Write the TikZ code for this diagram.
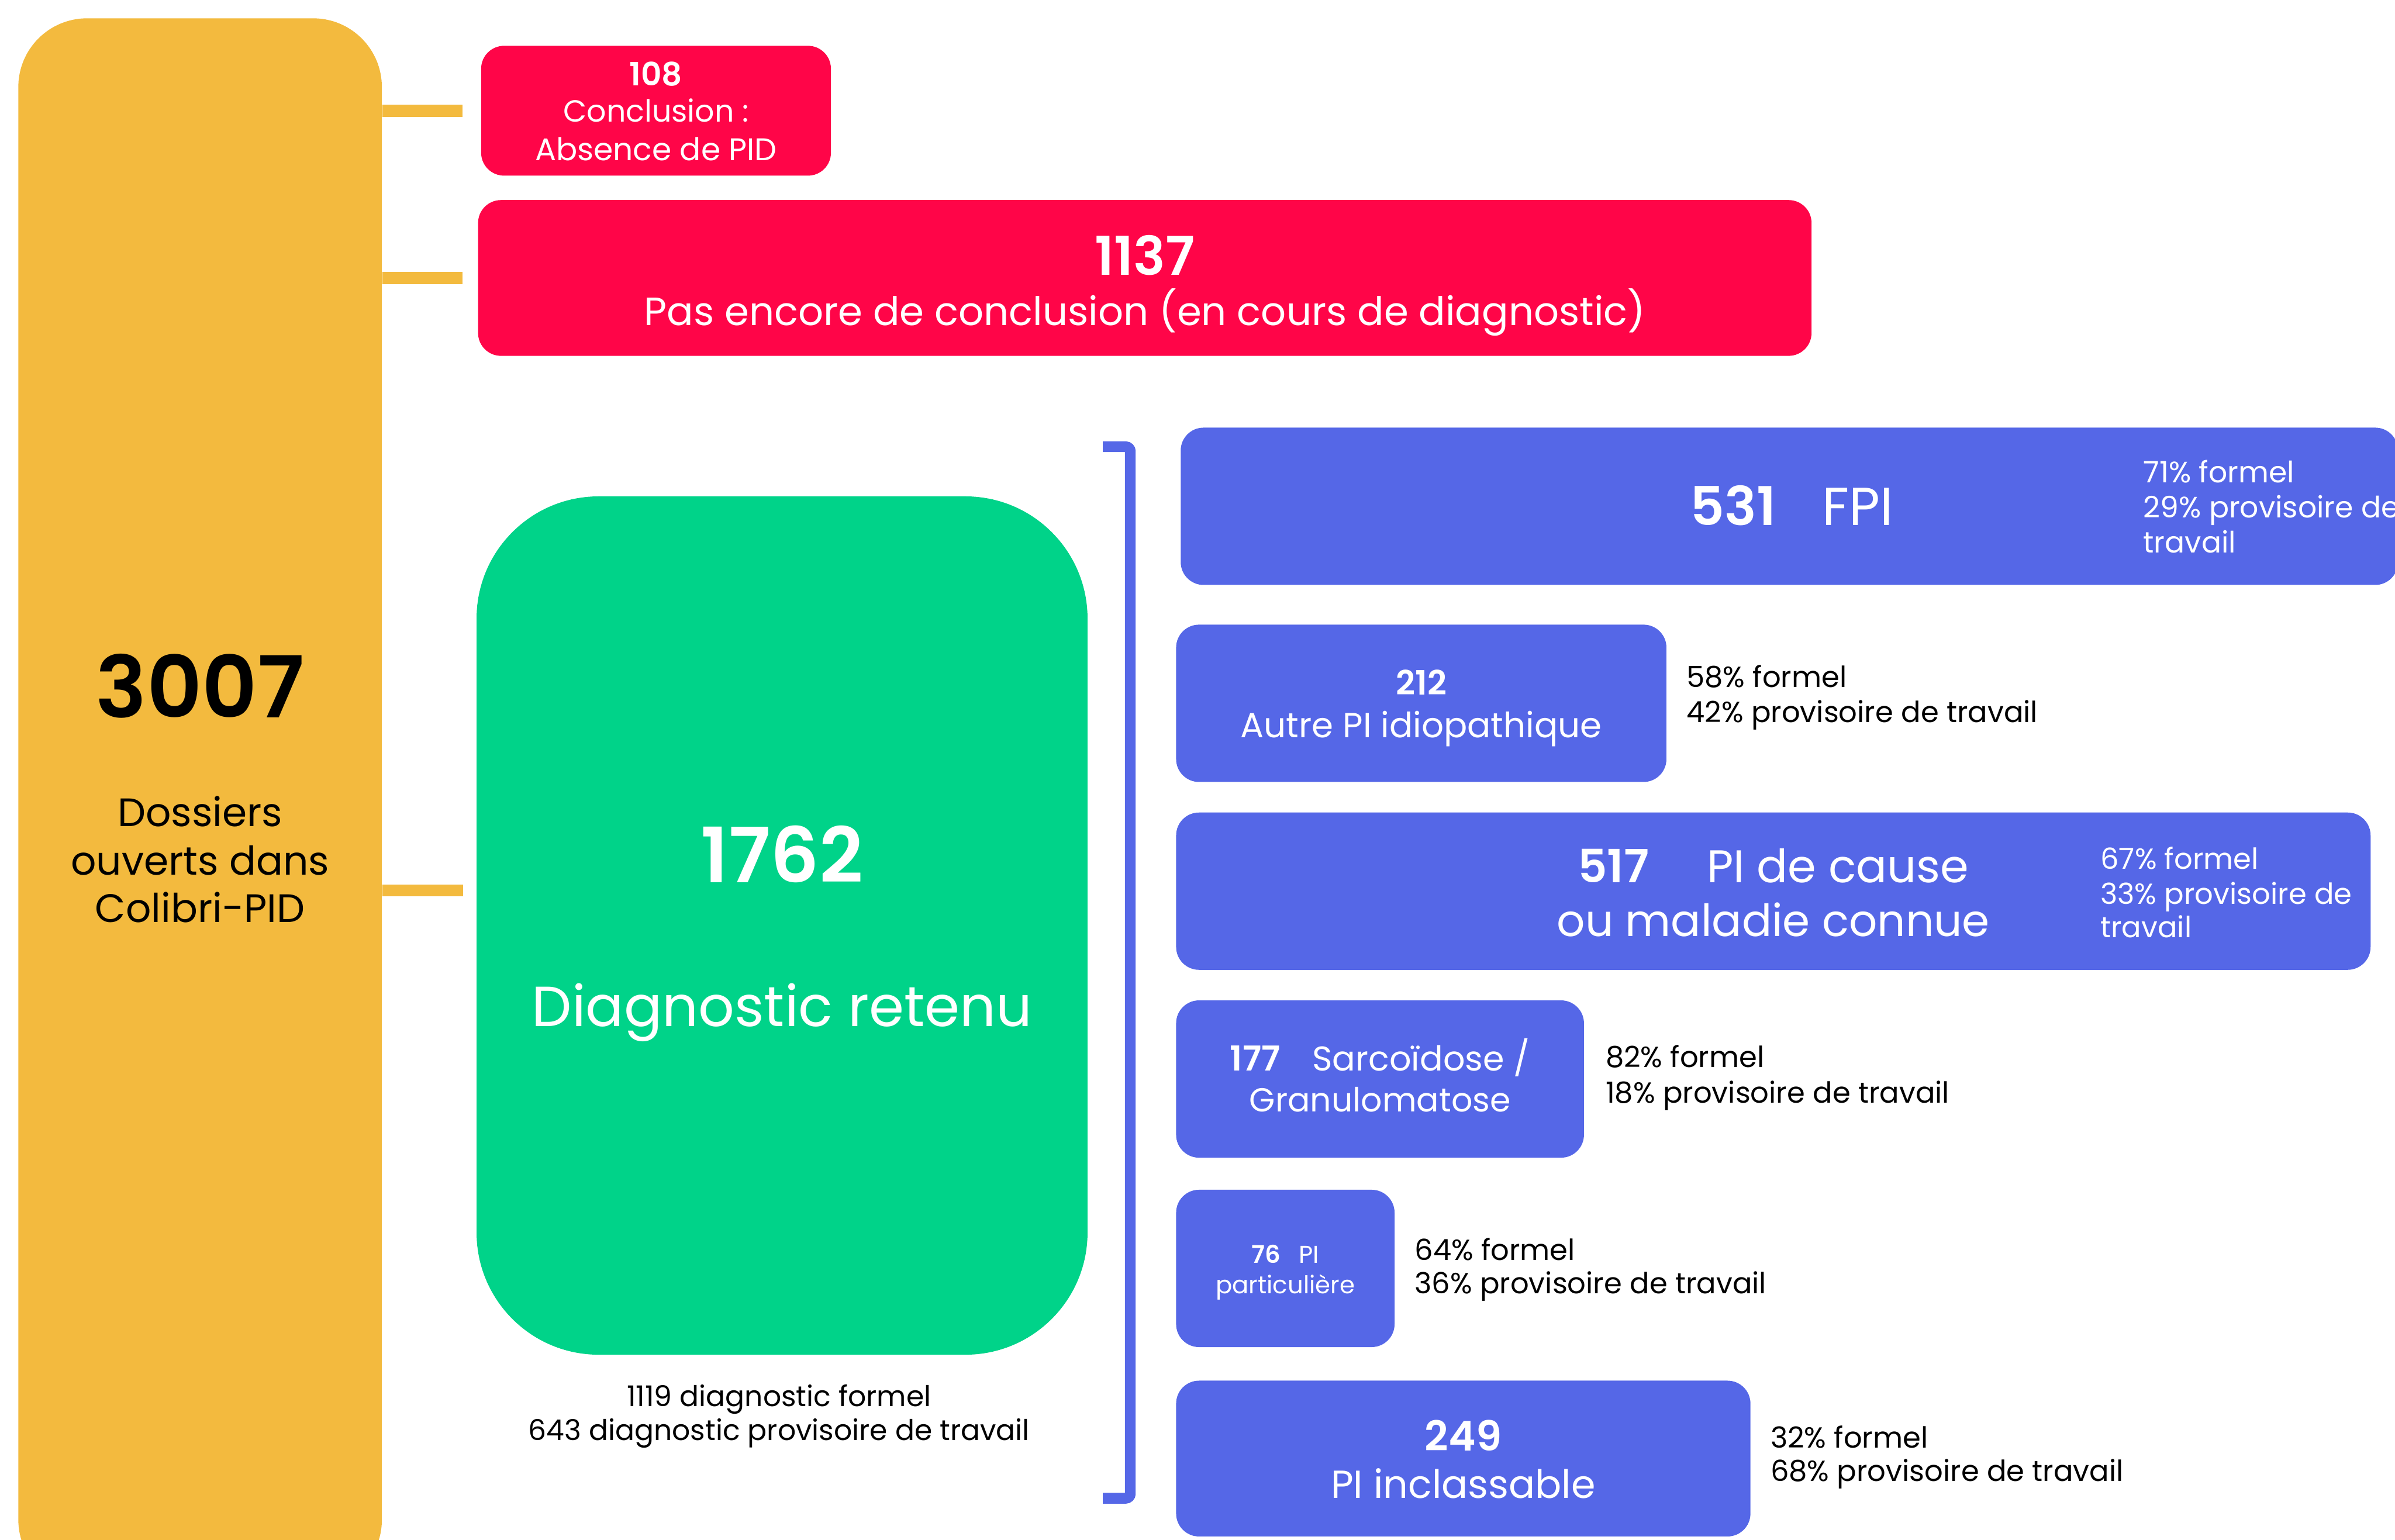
\documentclass[tikz,border=0pt]{standalone}
\usepackage{fontspec}
\setmainfont{Poppins}[BoldFont={Poppins SemiBold}]
\definecolor{cyel}{HTML}{F3BA3E}
\definecolor{cred}{HTML}{FF0548}
\definecolor{cgreen}{HTML}{00D389}
\definecolor{cblue}{HTML}{5567E7}
\newcommand\fsz[1]{\fontsize{#1pt}{#1pt}\selectfont}
\tikzset{
  box/.style={rectangle, inner sep=0pt, rounded corners=15pt},
  redbox/.style={box, fill=cred},
  bluebox/.style={box, fill=cblue},
  wt/.style={anchor=base, inner sep=0pt, text=white},
  bt/.style={anchor=base, inner sep=0pt, text=black},
  wl/.style={anchor=base west, inner sep=0pt, text=white},
  bl/.style={anchor=base west, inner sep=0pt, text=black},
  bar/.style={draw=cyel, line width=8pt},
}
\begin{document}
\begin{tikzpicture}[x=1pt,y=-1pt]
\useasboundingbox (0,0) rectangle (1568,1008);
\clip (0,0) rectangle (1568,1008);
% main boxes
\node[box, fill=cyel, rounded corners=45pt, minimum width=238pt, minimum height=1028pt] (yel) at (131,526) {};
\node[redbox, minimum width=229pt, minimum height=85pt] (r1) at (429.5,72.5) {};
\node[redbox, minimum width=873pt, minimum height=102pt] (r2) at (749.5,182) {};
\node[box, fill=cgreen, rounded corners=80pt, minimum width=400pt, minimum height=562pt] (gr) at (512,606) {};
\coordinate (c3) at (303,583);
% connectors
\draw[bar] (yel.east |- r1.west) -- ([xshift=-12pt]r1.west);
\draw[bar] (yel.east |- r2.west) -- ([xshift=-10pt]r2.west);
\draw[bar] (yel.east |- c3) -- (c3);
% bracket
\draw[cblue, line width=7pt, rounded corners=3pt] (722,292.5) -- (740,292.5) -- (740,981) -- (722,981);
% blue boxes
\node[bluebox, minimum width=797pt, minimum height=103pt] (b1) at (1171.5,331.5) {};
\node[bluebox, minimum width=321pt, minimum height=103pt] (b2) at (930.5,460.5) {};
\node[bluebox, minimum width=782pt, minimum height=103pt] (b3) at (1161,583.5) {};
\node[bluebox, minimum width=267pt, minimum height=103pt] (b4) at (903.5,706.5) {};
\node[bluebox, minimum width=143pt, minimum height=103pt] (b5) at (841.5,830.5) {};
\node[bluebox, minimum width=376pt, minimum height=102pt] (b6) at (958,955) {};
% yellow text
\node[bt, font=\fsz{56}\bfseries] (t3007) at (131,470) {3007};
\node[bt, font=\fsz{26}] (ty1) at (131,541) {Dossiers};
\node[bt, font=\fsz{26}] (ty2) at (131,573) {ouverts dans};
\node[bt, font=\fsz{26}] (ty3) at (131,604) {Colibri-PID};
% red texts
\node[wt, font=\fsz{21}\bfseries] (t108) at (429.5,56) {108};
\node[wt, font=\fsz{20}] (tr1a) at (429.5,80) {Conclusion :};
\node[wt, font=\fsz{20.5}] (tr1b) at (429.5,105) {Absence de PID};
\node[wt, font=\fsz{35}\bfseries] (t1137) at (749.5,180) {1137};
\node[wt, font=\fsz{25.8}] (tr2) at (749.5,213) {Pas encore de conclusion (en cours de diagnostic)};
% green
\node[wt, font=\fsz{50}\bfseries] (t1762) at (512,578) {1762};
\node[wt, font=\fsz{37}] (tgr) at (512,672) {Diagnostic retenu};
\node[bt, font=\fsz{18.7}] (tg1) at (510,921) {1119 diagnostic formel};
\node[bt, font=\fsz{18.7}] (tg2) at (510,943) {643 diagnostic provisoire de travail};
% b1
\node[wt, font=\fsz{35}] (t531) at (1173,344) {\textbf{531}\hspace{30pt}FPI};
\node[wl, font=\fsz{19.3}] (p1a) at (1403,316) {71\% formel};
\node[wl, font=\fsz{19.3}] (p1b) at (1403,339) {29\% provisoire de};
\node[wl, font=\fsz{19.3}] (p1c) at (1403,362) {travail};
% b2
\node[wt, font=\fsz{22}\bfseries] (t212) at (930.5,455) {212};
\node[wt, font=\fsz{22.8}] (tb2) at (930.5,483) {Autre PI idiopathique};
\node[bl, font=\fsz{19}] (p2a) at (1104,450) {58\% formel};
\node[bl, font=\fsz{19}] (p2b) at (1104,473) {42\% provisoire de travail};
% b3
\node[wt, font=\fsz{30}] (t517) at (1161,578) {\textbf{517}\hspace{38pt}PI de cause};
\node[wt, font=\fsz{29}] (tb3) at (1161,613) {ou maladie connue};
\node[wl, font=\fsz{19}] (p3a) at (1375,569) {67\% formel};
\node[wl, font=\fsz{19}] (p3b) at (1375,592) {33\% provisoire de};
\node[wl, font=\fsz{19}] (p3c) at (1375,614) {travail};
% b4
\node[wt, font=\fsz{22.5}] (t177) at (903.5,701) {\textbf{177}\hspace{21pt}Sarcoïdose /};
\node[wt, font=\fsz{21.8}] (tb4) at (903.5,728) {Granulomatose};
\node[bl, font=\fsz{19}] (p4a) at (1051,699) {82\% formel};
\node[bl, font=\fsz{19}] (p4b) at (1051,722) {18\% provisoire de travail};
% b5
\node[wt, font=\fsz{16}] (t76) at (841.5,827) {\textbf{76}\hspace{12pt}PI};
\node[wt, font=\fsz{16}] (tb5) at (841.5,847) {particulière};
\node[bl, font=\fsz{19}] (p5a) at (926,825) {64\% formel};
\node[bl, font=\fsz{19}] (p5b) at (926,847) {36\% provisoire de travail};
% b6
\node[wt, font=\fsz{27}\bfseries] (t249) at (958,950) {249};
\node[wt, font=\fsz{25.6}] (tb6) at (958,981) {PI inclassable};
\node[bl, font=\fsz{19}] (p6a) at (1159,948) {32\% formel};
\node[bl, font=\fsz{19}] (p6b) at (1159,970) {68\% provisoire de travail};
\end{tikzpicture}
\end{document}
